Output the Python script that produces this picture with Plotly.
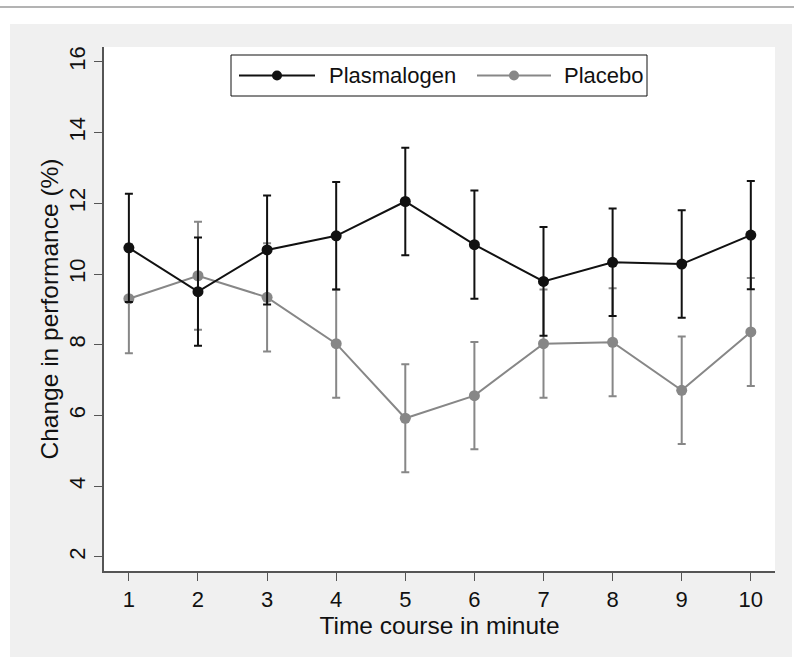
import plotly.graph_objects as go

# ---- data ----
minutes = [1, 2, 3, 4, 5, 6, 7, 8, 9, 10]
plasmalogen_mean = [10.74, 9.50, 10.68, 11.08, 12.05, 10.83, 9.79, 10.33, 10.28, 11.10]
plasmalogen_err = [1.53, 1.53, 1.54, 1.52, 1.52, 1.53, 1.54, 1.52, 1.52, 1.53]
placebo_mean = [9.30, 9.95, 9.34, 8.03, 5.92, 6.56, 8.03, 8.07, 6.71, 8.36]
placebo_err = [1.54, 1.53, 1.53, 1.53, 1.53, 1.52, 1.53, 1.53, 1.52, 1.53]
x_ticks = [1, 2, 3, 4, 5, 6, 7, 8, 9, 10]
y_ticks = [2, 4, 6, 8, 10, 12, 14, 16]
series_names = ["Plasmalogen", "Placebo"]

W, H = 794, 657
ML, MR, MT, MB = 104, 19, 47, 86
PW, PH = W - ML - MR, H - MT - MB

def px_x(p):
    return (p - ML) / PW

def px_y(p):
    return (H - MB - p) / PH

FONT = "Liberation Sans, Arial, sans-serif"
BLACK = "#111111"
GREY = "#878787"
AXIS = "#555555"

fig = go.Figure()
fig.add_trace(go.Scatter(
    x=minutes, y=placebo_mean, name=series_names[1], mode="lines+markers",
    line=dict(color=GREY, width=2), marker=dict(color=GREY, size=11),
    error_y=dict(type="data", array=placebo_err, color=GREY, thickness=2, width=4),
))
fig.add_trace(go.Scatter(
    x=minutes, y=plasmalogen_mean, name=series_names[0], mode="lines+markers",
    line=dict(color=BLACK, width=2), marker=dict(color=BLACK, size=11),
    error_y=dict(type="data", array=plasmalogen_err, color=BLACK, thickness=2, width=4),
))

shapes = [
    dict(type="rect", xref="paper", yref="paper", layer="below",
         x0=px_x(10), x1=px_x(792), y0=px_y(657), y1=px_y(24),
         fillcolor="#f0f0f0", line=dict(width=0)),
    dict(type="rect", xref="paper", yref="paper", layer="below",
         x0=0, x1=1, y0=0, y1=1, fillcolor="white", line=dict(width=0)),
    dict(type="line", xref="paper", yref="paper",
         x0=px_x(0), x1=px_x(794), y0=px_y(7), y1=px_y(7),
         line=dict(color="#9a9a9a", width=1.5)),
    # legend box
    dict(type="rect", xref="paper", yref="paper",
         x0=px_x(231), x1=px_x(647), y0=px_y(96), y1=px_y(55),
         fillcolor="white", line=dict(color=BLACK, width=1)),
]

annotations = []
legend_items = [
    (series_names[0], BLACK, 239, 315, 328),
    (series_names[1], GREY, 477, 551, 563),
]
LEG_Y = 75.5
for name, col, lx0, lx1, tx in legend_items:
    shapes.append(dict(type="line", xref="paper", yref="paper",
                       x0=px_x(lx0), x1=px_x(lx1), y0=px_y(LEG_Y), y1=px_y(LEG_Y),
                       line=dict(color=col, width=2)))
    shapes.append(dict(type="circle", xref="paper", yref="paper",
                       xsizemode="pixel", ysizemode="pixel",
                       xanchor=px_x((lx0 + lx1) / 2), yanchor=px_y(LEG_Y),
                       x0=-5, x1=5, y0=-5, y1=5,
                       fillcolor=col, line=dict(color=col, width=0)))
    annotations.append(dict(text=name, xref="paper", yref="paper",
                            x=px_x(tx), y=px_y(LEG_Y), xanchor="left", yanchor="middle",
                            showarrow=False, font=dict(size=22, color=BLACK),
                            borderpad=0))

fig.update_layout(
    width=W, height=H,
    margin=dict(l=ML, r=MR, t=MT, b=MB),
    paper_bgcolor="white", plot_bgcolor="white",
    font=dict(family=FONT, size=22, color=BLACK),
    shapes=shapes,
    annotations=annotations,
    showlegend=False,
    xaxis=dict(
        range=[0.64, 10.35], tickvals=x_ticks, ticks="outside", ticklen=8,
        tickcolor=AXIS, showline=True, linecolor=AXIS, linewidth=1.5,
        showgrid=False, zeroline=False, tickfont=dict(size=22, color=BLACK),
        title=dict(text="Time course in minute", standoff=0, font=dict(size=24.5)),
    ),
    yaxis=dict(
        range=[1.6, 16.42], tickvals=y_ticks, ticks="outside", ticklen=8,
        tickcolor=AXIS, showline=True, linecolor=AXIS, linewidth=1.5,
        showgrid=False, zeroline=False, tickangle=-90,
        tickfont=dict(size=22, color=BLACK),
        title=dict(text="Change in performance (%)", standoff=0, font=dict(size=24.5)),
    ),
)

fig.write_html("out.html", config={"displayModeBar": False},
               post_script="document.body.style.margin='0';")
